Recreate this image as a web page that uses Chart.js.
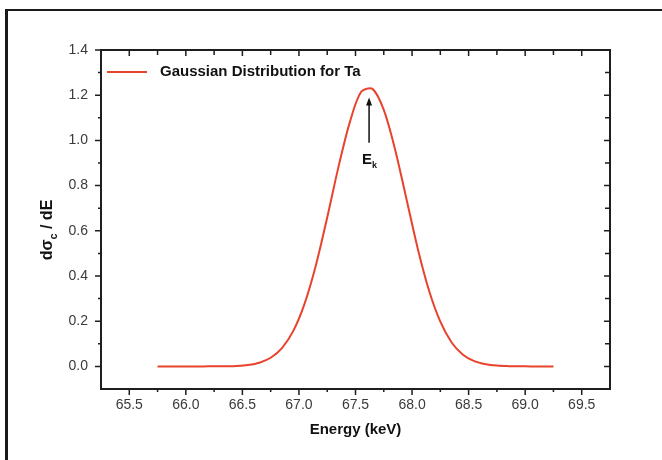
<!DOCTYPE html>
<html><head><meta charset="utf-8">
<script src="https://cdn.jsdelivr.net/npm/chart.js@4/dist/chart.umd.min.js"></script>
<style>html,body{margin:0;padding:0;background:#fff;}</style>
</head><body>
<canvas id="c" width="662" height="460"></canvas>
<script>
const energy = [65.75, 65.85, 65.95, 66.05, 66.15, 66.25, 66.35, 66.45, 66.55, 66.65, 66.75, 66.85,
  66.95, 67.05, 67.15, 67.25, 67.35, 67.45, 67.55, 67.65, 67.75, 67.85, 67.95, 68.05,
  68.15, 68.25, 68.35, 68.45, 68.55, 68.65, 68.75, 68.85, 68.95, 69.05, 69.15, 69.25];
const dSigma = [0, 0, 0, 0, 0.0001, 0.0002, 0.0008, 0.0023, 0.0064, 0.0164, 0.0382, 0.0812,
  0.157, 0.278, 0.448, 0.659, 0.884, 1.081, 1.215, 1.228, 1.135, 0.960, 0.742, 0.522,
  0.336, 0.198, 0.106, 0.0520, 0.0232, 0.0095, 0.0035, 0.0012, 0.0004, 0.0001, 0, 0];
const xTicks = [65.5, 66.0, 66.5, 67.0, 67.5, 68.0, 68.5, 69.0, 69.5];
const xMinorTicks = [65.75, 66.25, 66.75, 67.25, 67.75, 68.25, 68.75, 69.25];
const yTicks = [0.0, 0.2, 0.4, 0.6, 0.8, 1.0, 1.2, 1.4];
const yMinorTicks = [0.1, 0.3, 0.5, 0.7, 0.9, 1.1, 1.3];
const seriesLabel = 'Gaussian Distribution for Ta';
const peakEnergy = 67.62;

const FONT = '"Liberation Sans", Arial, sans-serif';
const AXIS = '#1e1e1e';

const decor = {
  id: 'decor',
  beforeDraw(chart) {
    const ctx = chart.ctx;
    ctx.save();
    ctx.fillStyle = '#fff';
    ctx.fillRect(0, 0, chart.width, chart.height);
    ctx.fillStyle = '#1a1a1a';
    ctx.fillRect(5, 9, 3, chart.height - 9);
    ctx.fillRect(5, 9, chart.width - 5, 2);
    ctx.restore();
  },
  afterDraw(chart) {
    const ctx = chart.ctx;
    const a = chart.chartArea;
    const xs = chart.scales.x, ys = chart.scales.y;
    ctx.save();
    ctx.strokeStyle = AXIS;
    ctx.lineWidth = 2;
    ctx.strokeRect(a.left, a.top, a.right - a.left, a.bottom - a.top);
    ctx.lineWidth = 1.5;
    ctx.beginPath();
    const tick = (x1, y1, x2, y2) => { ctx.moveTo(x1, y1); ctx.lineTo(x2, y2); };
    xTicks.forEach(v => { const p = xs.getPixelForValue(v);
      tick(p, a.bottom, p, a.bottom + 6); tick(p, a.top, p, a.top + 6); });
    xMinorTicks.forEach(v => { const p = xs.getPixelForValue(v);
      tick(p, a.bottom, p, a.bottom + 3); tick(p, a.top, p, a.top + 5); });
    yTicks.forEach(v => { const p = ys.getPixelForValue(v);
      tick(a.left, p, a.left - 6, p); tick(a.right, p, a.right - 6, p); });
    yMinorTicks.forEach(v => { const p = ys.getPixelForValue(v);
      tick(a.left, p, a.left - 3, p); tick(a.right, p, a.right - 5, p); });
    ctx.stroke();

    // legend
    const ds = chart.data.datasets[0];
    ctx.strokeStyle = ds.borderColor;
    ctx.lineWidth = 2;
    ctx.beginPath(); ctx.moveTo(107, 72); ctx.lineTo(147, 72); ctx.stroke();
    ctx.fillStyle = '#111';
    ctx.font = 'bold 15px ' + FONT;
    ctx.textBaseline = 'middle';
    ctx.textAlign = 'left';
    ctx.fillText(ds.label, 160, 72);

    // y axis title with subscript
    ctx.save();
    ctx.translate(47, 230);
    ctx.rotate(-Math.PI / 2);
    const big = 'bold 16px ' + FONT, small = 'bold 11px ' + FONT;
    ctx.font = big; const w1 = ctx.measureText('d\u03c3').width;
    ctx.font = small; const w2 = ctx.measureText('c').width;
    ctx.font = big; const w3 = ctx.measureText(' / dE').width;
    let x0 = -(w1 + w2 + w3) / 2;
    ctx.textBaseline = 'alphabetic';
    ctx.font = big; ctx.fillText('d\u03c3', x0, 5);
    ctx.font = small; ctx.fillText('c', x0 + w1, 10);
    ctx.font = big; ctx.fillText(' / dE', x0 + w1 + w2, 5);
    ctx.restore();

    // E_k arrow annotation
    const ax = xs.getPixelForValue(peakEnergy);
    const yTail = ys.getPixelForValue(0.99), yTip = ys.getPixelForValue(1.19);
    ctx.strokeStyle = '#111'; ctx.fillStyle = '#111'; ctx.lineWidth = 1.5;
    ctx.beginPath(); ctx.moveTo(ax, yTail); ctx.lineTo(ax, yTip + 6); ctx.stroke();
    ctx.beginPath(); ctx.moveTo(ax, yTip); ctx.lineTo(ax - 3, yTip + 8); ctx.lineTo(ax + 3, yTip + 8); ctx.closePath(); ctx.fill();
    ctx.font = 'bold 15px ' + FONT; ctx.textAlign = 'left'; ctx.textBaseline = 'alphabetic';
    ctx.fillText('E', ax - 7, yTail + 21);
    const we = ctx.measureText('E').width;
    ctx.font = 'bold 9px ' + FONT;
    ctx.fillText('k', ax - 7 + we, yTail + 25);
    ctx.restore();
  }
};

new Chart(document.getElementById('c'), {
  type: 'line',
  data: {
    datasets: [{
      label: seriesLabel,
      data: energy.map((e, i) => ({ x: e, y: dSigma[i] })),
      borderColor: '#e8432c',
      borderWidth: 2,
      pointRadius: 0,
      fill: false,
      tension: 0.3
    }]
  },
  options: {
    responsive: false,
    animation: false,
    devicePixelRatio: 1,
    layout: { padding: { top: 50, right: 52, bottom: 0, left: 0 } },
    plugins: { legend: { display: false }, tooltip: { enabled: false } },
    scales: {
      x: {
        type: 'linear', position: 'bottom', min: 65.25, max: 69.75,
        afterBuildTicks: s => { s.ticks = xTicks.map(v => ({ value: v })); },
        afterFit: s => { s.height = 71; },
        grid: { display: false, drawTicks: false },
        border: { display: false },
        ticks: { autoSkip: false, maxRotation: 0, padding: 8, color: '#3a3a3a',
          font: { family: FONT, size: 14 }, callback: v => Number(v).toFixed(1) },
        title: { display: true, text: 'Energy (keV)', color: '#111',
          font: { family: FONT, size: 15, weight: 'bold' }, padding: { top: 0, bottom: 21 } }
      },
      y: {
        type: 'linear', min: -0.1, max: 1.4,
        afterBuildTicks: s => { s.ticks = yTicks.map(v => ({ value: v })); },
        afterFit: s => { s.width = 101; },
        grid: { display: false, drawTicks: false },
        border: { display: false },
        ticks: { padding: 13, color: '#3a3a3a', font: { family: FONT, size: 14 },
          callback: v => Number(v).toFixed(1) }
      }
    }
  },
  plugins: [decor]
});
</script>
</body></html>
